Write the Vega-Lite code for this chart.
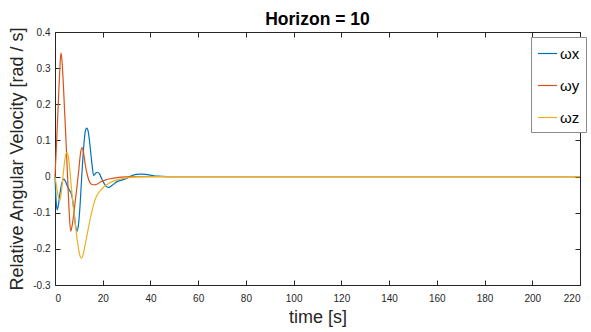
{
  "$schema": "https://vega.github.io/schema/vega-lite/v6.json",
  "width": 525,
  "height": 253,
  "autosize": {"type": "none"},
  "padding": {"left": 55, "top": 32, "right": 11, "bottom": 47},
  "background": "white",
  "title": {"text": "Horizon = 10", "font": "Liberation Sans", "fontSize": 17.5, "fontWeight": "bold", "color": "#000000", "offset": -2},
  "config": {
    "view": {"stroke": null},
    "axis": {
      "grid": false,
      "domainColor": "#262626",
      "domainWidth": 1,
      "tickColor": "#262626",
      "tickSize": -5,
      "labelColor": "#262626",
      "labelFont": "Liberation Sans",
      "labelFontSize": 10,
      "titleFont": "Liberation Sans",
      "titleFontSize": 18,
      "titleFontWeight": "normal",
      "titleColor": "#262626"
    }
  },
  "data": {
    "values": [
      {"t": 0, "v": 0, "s": "ωx"},
      {"t": 0.5, "v": -0.07, "s": "ωx"},
      {"t": 0.9, "v": -0.092, "s": "ωx"},
      {"t": 1.4, "v": -0.08, "s": "ωx"},
      {"t": 2.0, "v": -0.05, "s": "ωx"},
      {"t": 2.8, "v": -0.02, "s": "ωx"},
      {"t": 3.7, "v": -0.007, "s": "ωx"},
      {"t": 4.4, "v": -0.013, "s": "ωx"},
      {"t": 5.2, "v": -0.027, "s": "ωx"},
      {"t": 6.0, "v": -0.037, "s": "ωx"},
      {"t": 6.7, "v": -0.045, "s": "ωx"},
      {"t": 7.4, "v": -0.065, "s": "ωx"},
      {"t": 8.1, "v": -0.105, "s": "ωx"},
      {"t": 8.7, "v": -0.14, "s": "ωx"},
      {"t": 9.2, "v": -0.151, "s": "ωx"},
      {"t": 9.8, "v": -0.135, "s": "ωx"},
      {"t": 10.5, "v": -0.08, "s": "ωx"},
      {"t": 11.2, "v": 0.0, "s": "ωx"},
      {"t": 12.0, "v": 0.08, "s": "ωx"},
      {"t": 12.7, "v": 0.125, "s": "ωx"},
      {"t": 13.3, "v": 0.134, "s": "ωx"},
      {"t": 13.9, "v": 0.125, "s": "ωx"},
      {"t": 14.6, "v": 0.09, "s": "ωx"},
      {"t": 15.4, "v": 0.04, "s": "ωx"},
      {"t": 16.2, "v": 0.003, "s": "ωx"},
      {"t": 17.0, "v": 0.009, "s": "ωx"},
      {"t": 17.8, "v": 0.012, "s": "ωx"},
      {"t": 18.6, "v": 0.008, "s": "ωx"},
      {"t": 19.5, "v": -0.005, "s": "ωx"},
      {"t": 20.5, "v": -0.018, "s": "ωx"},
      {"t": 21.5, "v": -0.027, "s": "ωx"},
      {"t": 22.5, "v": -0.03, "s": "ωx"},
      {"t": 24, "v": -0.024, "s": "ωx"},
      {"t": 26, "v": -0.014, "s": "ωx"},
      {"t": 28, "v": -0.01, "s": "ωx"},
      {"t": 30, "v": -0.005, "s": "ωx"},
      {"t": 32.3, "v": 0.003, "s": "ωx"},
      {"t": 34, "v": 0.006, "s": "ωx"},
      {"t": 36, "v": 0.007, "s": "ωx"},
      {"t": 38, "v": 0.006, "s": "ωx"},
      {"t": 40, "v": 0.004, "s": "ωx"},
      {"t": 43, "v": 0.001, "s": "ωx"},
      {"t": 47, "v": 0, "s": "ωx"},
      {"t": 220, "v": 0, "s": "ωx"},
      {"t": 0, "v": 0, "s": "ωy"},
      {"t": 0.5, "v": 0.07, "s": "ωy"},
      {"t": 1.0, "v": 0.145, "s": "ωy"},
      {"t": 1.5, "v": 0.22, "s": "ωy"},
      {"t": 2.0, "v": 0.295, "s": "ωy"},
      {"t": 2.5, "v": 0.342, "s": "ωy"},
      {"t": 3.0, "v": 0.315, "s": "ωy"},
      {"t": 3.5, "v": 0.255, "s": "ωy"},
      {"t": 4.0, "v": 0.185, "s": "ωy"},
      {"t": 4.5, "v": 0.115, "s": "ωy"},
      {"t": 5.0, "v": 0.04, "s": "ωy"},
      {"t": 5.5, "v": -0.035, "s": "ωy"},
      {"t": 6.0, "v": -0.105, "s": "ωy"},
      {"t": 6.6, "v": -0.151, "s": "ωy"},
      {"t": 7.2, "v": -0.135, "s": "ωy"},
      {"t": 8.0, "v": -0.095, "s": "ωy"},
      {"t": 9.0, "v": -0.04, "s": "ωy"},
      {"t": 10.0, "v": 0.02, "s": "ωy"},
      {"t": 10.7, "v": 0.065, "s": "ωy"},
      {"t": 11.3, "v": 0.08, "s": "ωy"},
      {"t": 11.9, "v": 0.068, "s": "ωy"},
      {"t": 12.7, "v": 0.032, "s": "ωy"},
      {"t": 13.6, "v": 0.003, "s": "ωy"},
      {"t": 14.5, "v": -0.015, "s": "ωy"},
      {"t": 15.5, "v": -0.022, "s": "ωy"},
      {"t": 16.5, "v": -0.023, "s": "ωy"},
      {"t": 18, "v": -0.02, "s": "ωy"},
      {"t": 19, "v": -0.015, "s": "ωy"},
      {"t": 21, "v": -0.01, "s": "ωy"},
      {"t": 23, "v": -0.006, "s": "ωy"},
      {"t": 26, "v": -0.003, "s": "ωy"},
      {"t": 30, "v": -0.001, "s": "ωy"},
      {"t": 35, "v": 0, "s": "ωy"},
      {"t": 220, "v": 0, "s": "ωy"},
      {"t": 0, "v": 0, "s": "ωz"},
      {"t": 0.7, "v": -0.03, "s": "ωz"},
      {"t": 1.4, "v": -0.055, "s": "ωz"},
      {"t": 2.1, "v": -0.065, "s": "ωz"},
      {"t": 2.8, "v": -0.035, "s": "ωz"},
      {"t": 3.5, "v": 0.01, "s": "ωz"},
      {"t": 4.2, "v": 0.05, "s": "ωz"},
      {"t": 4.9, "v": 0.066, "s": "ωz"},
      {"t": 5.5, "v": 0.058, "s": "ωz"},
      {"t": 6.2, "v": 0.02, "s": "ωz"},
      {"t": 7.0, "v": -0.04, "s": "ωz"},
      {"t": 7.7, "v": -0.085, "s": "ωz"},
      {"t": 8.5, "v": -0.13, "s": "ωz"},
      {"t": 9.3, "v": -0.175, "s": "ωz"},
      {"t": 10.0, "v": -0.205, "s": "ωz"},
      {"t": 10.6, "v": -0.222, "s": "ωz"},
      {"t": 11.2, "v": -0.226, "s": "ωz"},
      {"t": 11.8, "v": -0.215, "s": "ωz"},
      {"t": 12.6, "v": -0.19, "s": "ωz"},
      {"t": 13.4, "v": -0.163, "s": "ωz"},
      {"t": 14.5, "v": -0.125, "s": "ωz"},
      {"t": 15.5, "v": -0.095, "s": "ωz"},
      {"t": 16.5, "v": -0.07, "s": "ωz"},
      {"t": 17.5, "v": -0.053, "s": "ωz"},
      {"t": 19, "v": -0.039, "s": "ωz"},
      {"t": 20.5, "v": -0.028, "s": "ωz"},
      {"t": 22, "v": -0.021, "s": "ωz"},
      {"t": 24, "v": -0.014, "s": "ωz"},
      {"t": 26, "v": -0.009, "s": "ωz"},
      {"t": 28, "v": -0.006, "s": "ωz"},
      {"t": 31, "v": -0.003, "s": "ωz"},
      {"t": 35, "v": -0.001, "s": "ωz"},
      {"t": 40, "v": 0, "s": "ωz"},
      {"t": 220, "v": 0, "s": "ωz"}
    ]
  },
  "layer": [
    {
      "mark": {"type": "line", "strokeWidth": 1.2, "interpolate": "monotone"},
      "encoding": {
        "x": {
          "field": "t", "type": "quantitative",
          "scale": {"domain": [0, 220], "nice": false, "zero": false},
          "axis": {"orient": "bottom", "values": [0, 20, 40, 60, 80, 100, 120, 140, 160, 180, 200, 220], "title": "time [s]", "labelPadding": 13, "titlePadding": 5}
        },
        "y": {
          "field": "v", "type": "quantitative",
          "scale": {"domain": [-0.3, 0.4], "nice": false, "zero": false},
          "axis": {"orient": "left", "values": [-0.3, -0.2, -0.1, 0, 0.1, 0.2, 0.3, 0.4], "labelExpr": "datum.value == 0 ? '0' : replace(format(datum.value, '.1f'), '−', '-')", "title": "Relative Angular Velocity [rad / s]", "labelPadding": 10, "titlePadding": 6}
        },
        "color": {
          "field": "s", "type": "nominal",
          "scale": {"domain": ["ωx", "ωy", "ωz"], "range": ["#0072BD", "#D95319", "#EDB120"]},
          "legend": {
            "title": null, "orient": "none", "legendX": 476, "legendY": 5,
            "symbolType": "stroke", "symbolSize": 360, "symbolStrokeWidth": 1.2,
            "labelFont": "Liberation Sans", "labelFontSize": 15, "labelColor": "#000000",
            "labelOffset": 2, "rowPadding": 13, "padding": 6,
            "strokeColor": "#8c8c8c", "fillColor": "#ffffff"
          }
        }
      }
    },
    {
      "mark": {"type": "line", "strokeOpacity": 0},
      "encoding": {
        "x": {"field": "t", "type": "quantitative", "axis": {"orient": "top", "values": [0, 20, 40, 60, 80, 100, 120, 140, 160, 180, 200, 220], "labels": false, "title": null}},
        "y": {"field": "v", "type": "quantitative", "axis": {"orient": "right", "values": [-0.3, -0.2, -0.1, 0, 0.1, 0.2, 0.3, 0.4], "labels": false, "title": null}},
        "detail": {"field": "s"}
      }
    }
  ],
  "resolve": {"axis": {"x": "independent", "y": "independent"}}
}
